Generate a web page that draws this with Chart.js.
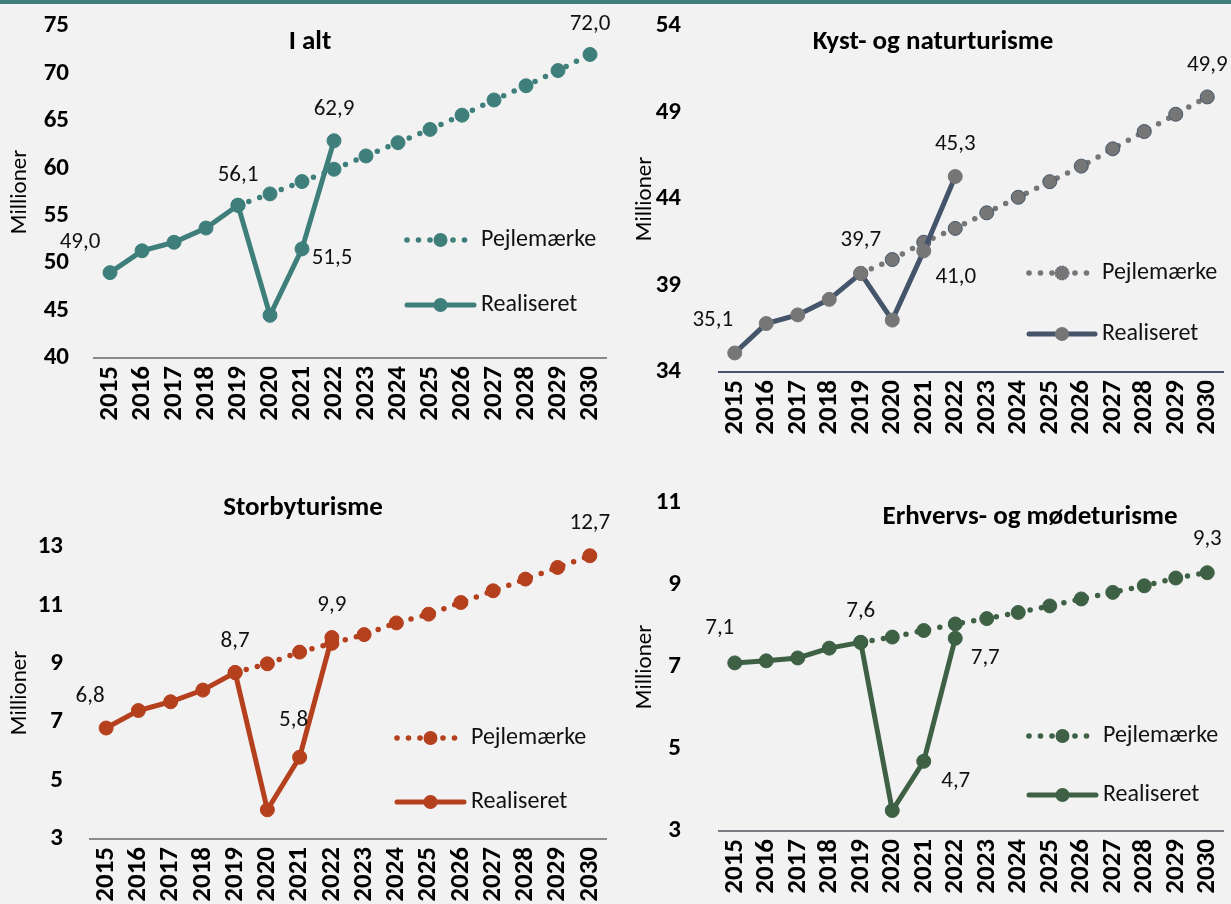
<!DOCTYPE html>
<html>
<head>
<meta charset="utf-8">
<script src="https://cdn.jsdelivr.net/npm/chart.js@4.4.1/dist/chart.umd.min.js"></script>
<style>
  body { margin: 0; background: #f2f2f2; width: 1231px; height: 904px; overflow: hidden; position: relative; }
  #topbar { position: absolute; left: 0; top: 0; width: 1231px; height: 4px; background: #3e7e7b; }
  .panel { position: absolute; }
</style>
</head>
<body>
<div id="topbar"></div>
<div class="panel" style="left:0;top:0;width:615px;height:465px"><canvas id="c1"></canvas></div>
<div class="panel" style="left:615px;top:0;width:616px;height:465px"><canvas id="c2"></canvas></div>
<div class="panel" style="left:0;top:465px;width:615px;height:439px"><canvas id="c3"></canvas></div>
<div class="panel" style="left:615px;top:465px;width:616px;height:439px"><canvas id="c4"></canvas></div>
<script>
// x categories
const years = ['2015','2016','2017','2018','2019','2020','2021','2022','2023','2024','2025','2026','2027','2028','2029','2030'];
const legendLabels = ['Pejlemærke', 'Realiseret'];

// I alt
const iAltRealiseret = [49.0, 51.3, 52.2, 53.7, 56.1, 44.5, 51.5, 62.9];
const iAltPejlemaerke = [null, null, null, null, 56.1, 57.3, 58.6, 59.9, 61.3, 62.7, 64.1, 65.6, 67.2, 68.7, 70.3, 72.0];
const iAltTicks = [40, 45, 50, 55, 60, 65, 70, 75];

// Kyst- og naturturisme
const kystRealiseret = [35.1, 36.8, 37.3, 38.2, 39.7, 37.0, 41.0, 45.3];
const kystPejlemaerke = [null, null, null, null, 39.7, 40.5, 41.5, 42.3, 43.2, 44.1, 45.0, 45.9, 46.9, 47.9, 48.9, 49.9];
const kystTicks = [34, 39, 44, 49, 54];

// Storbyturisme
const storbyRealiseret = [6.8, 7.4, 7.7, 8.1, 8.7, 4.0, 5.8, 9.9];
const storbyPejlemaerke = [null, null, null, null, 8.7, 9.0, 9.4, 9.7, 10.0, 10.4, 10.7, 11.1, 11.5, 11.9, 12.3, 12.7];
const storbyTicks = [3, 5, 7, 9, 11, 13];

// Erhvervs- og mødeturisme
const erhvervRealiseret = [7.1, 7.15, 7.22, 7.46, 7.6, 3.5, 4.7, 7.7];
const erhvervPejlemaerke = [null, null, null, null, 7.6, 7.73, 7.89, 8.05, 8.18, 8.33, 8.49, 8.66, 8.82, 8.98, 9.17, 9.3];
const erhvervTicks = [3, 5, 7, 9, 11];

const FONT = 'Carlito, Lato, sans-serif';

// draws panel title, the in-plot legend and the value labels
const decorPlugin = {
  id: 'decor',
  afterDatasetsDraw(chart, args, o) {
    const ctx = chart.ctx;
    ctx.save();
    // title
    ctx.fillStyle = '#000';
    ctx.font = 'bold 27px ' + FONT;
    ctx.textAlign = 'center';
    ctx.textBaseline = 'middle';
    ctx.fillText(o.title, o.titleX, o.titleY);

    // value labels
    ctx.font = '23px ' + FONT;
    ctx.fillStyle = '#111';
    o.labels.forEach(l => {
      const el = chart.getDatasetMeta(l.ds).data[l.i];
      const v = chart.data.datasets[l.ds].data[l.i];
      ctx.fillText(v.toFixed(1).replace('.', ','), el.x + l.dx, el.y + l.dy);
    });

    // legend
    const lg = o.legend;
    const mid = (lg.x0 + lg.x1) / 2;
    // dotted row
    ctx.fillStyle = o.lineColor2;
    for (let x = lg.x0; x <= lg.x1 + 0.5; x += 11.5) {
      ctx.beginPath(); ctx.arc(x, lg.y1, 2.8, 0, Math.PI * 2); ctx.fill();
    }
    ctx.beginPath(); ctx.arc(mid, lg.y1, 7, 0, Math.PI * 2);
    ctx.fillStyle = o.markerColor; ctx.fill();
    if (o.markerBorder) { ctx.lineWidth = 1; ctx.strokeStyle = o.markerBorder; ctx.setLineDash([1.5, 1.5]); ctx.stroke(); ctx.setLineDash([]); }
    // solid row
    ctx.strokeStyle = o.lineColor; ctx.lineWidth = 5; ctx.lineCap = 'round';
    ctx.beginPath(); ctx.moveTo(lg.x0, lg.y2); ctx.lineTo(lg.x1, lg.y2); ctx.stroke();
    ctx.beginPath(); ctx.arc(mid, lg.y2, 7, 0, Math.PI * 2);
    ctx.fillStyle = o.markerColor; ctx.fill();

    ctx.fillStyle = '#111';
    ctx.font = '24px ' + FONT;
    ctx.textAlign = 'left';
    ctx.fillText(legendLabels[0], lg.x1 + 7, lg.y1);
    ctx.fillText(legendLabels[1], lg.x1 + 7, lg.y2);
    ctx.restore();
  }
};

function makeChart(id, p) {
  const ticks = p.ticks;
  return new Chart(document.getElementById(id), {
    type: 'line',
    data: {
      labels: years,
      datasets: [{
        label: legendLabels[0],
        data: p.pejl,
        borderColor: p.lineColor2,
        borderWidth: 5.5,
        borderDash: [0, 11.5],
        borderCapStyle: 'round',
        pointRadius: 7,
        pointBackgroundColor: p.markerColor,
        pointBorderColor: p.markerBorder || p.markerColor,
        pointBorderWidth: 1,
        order: 2
      }, {
        label: legendLabels[1],
        data: p.real,
        borderColor: p.lineColor,
        borderWidth: 5,
        pointRadius: 7,
        pointBackgroundColor: p.markerColor,
        pointBorderColor: p.markerColor,
        pointBorderWidth: 1,
        order: 1
      }]
    },
    options: {
      responsive: true,
      maintainAspectRatio: false,
      animation: false,
      layout: { padding: { left: 0, right: p.padR, top: p.padT, bottom: p.padB } },
      plugins: {
        legend: { display: false },
        tooltip: { enabled: false },
        decor: {
          title: p.title, titleX: p.titleX, titleY: p.titleY,
          labels: p.labels, legend: p.legend,
          lineColor: p.lineColor, lineColor2: p.lineColor2,
          markerColor: p.markerColor, markerBorder: p.markerBorder
        }
      },
      scales: {
        x: {
          offset: true,
          grid: { display: false, drawTicks: false },
          border: { display: true, color: p.axisColor, width: 2 },
          ticks: {
            minRotation: 90, maxRotation: 90, padding: 8, autoSkip: false,
            color: '#000', font: { family: FONT, size: 27, weight: 'bold' }
          },
          afterFit(s) { s.height = p.xH; s.paddingLeft = 0; s.paddingRight = 0; }
        },
        y: {
          min: ticks[0], max: ticks[ticks.length - 1],
          grid: { display: false, drawTicks: false },
          border: { display: false },
          ticks: {
            stepSize: ticks[1] - ticks[0], padding: p.tickPad,
            color: '#000', font: { family: FONT, size: 25, weight: 'bold' }
          },
          title: {
            display: true, text: 'Millioner', color: '#000',
            padding: { top: p.titlePad, bottom: 0 },
            font: { family: FONT, size: 23 }
          },
          afterFit(s) { s.width = p.yW; s.paddingTop = 0; s.paddingBottom = 0; }
        }
      }
    },
    plugins: [decorPlugin]
  });
}

window.onload = function() {
  makeChart('c1', {
    real: iAltRealiseret, pejl: iAltPejlemaerke, ticks: iAltTicks,
    title: 'I alt', titleX: 310, titleY: 42,
    lineColor: '#3e7e7b', lineColor2: '#3e7e7b', markerColor: '#3e7e7b', axisColor: '#8a8a8a',
    yW: 94, padR: 9, padT: 26, padB: 27, xH: 80, tickPad: 25, titlePad: 6,
    legend: { x0: 407, x1: 474, y1: 240, y2: 305 },
    labels: [
      { ds: 1, i: 0, dx: -30, dy: -30 }, { ds: 1, i: 4, dx: 0, dy: -30 },
      { ds: 1, i: 7, dx: 0, dy: -32 }, { ds: 1, i: 6, dx: 30, dy: 9 },
      { ds: 0, i: 15, dx: 0, dy: -30 }
    ]
  });
  makeChart('c2', {
    real: kystRealiseret, pejl: kystPejlemaerke, ticks: kystTicks,
    title: 'Kyst- og naturturisme', titleX: 318, titleY: 42,
    lineColor: '#44546a', lineColor2: '#767676', markerColor: '#767676', markerBorder: '#44546a', axisColor: '#44546a',
    yW: 104, padR: 7, padT: 26, padB: 13, xH: 80, tickPad: 38, titlePad: 16,
    legend: { x0: 414, x1: 480, y1: 273, y2: 334 },
    labels: [
      { ds: 1, i: 0, dx: -22, dy: -33 }, { ds: 1, i: 4, dx: 0, dy: -33 },
      { ds: 1, i: 7, dx: 0, dy: -32 }, { ds: 1, i: 6, dx: 32, dy: 26 },
      { ds: 0, i: 15, dx: 0, dy: -32 }
    ]
  });
  makeChart('c3', {
    real: storbyRealiseret, pejl: storbyPejlemaerke, ticks: storbyTicks,
    title: 'Storbyturisme', titleX: 303, titleY: 43,
    lineColor: '#b5401e', lineColor2: '#b5401e', markerColor: '#b5401e', axisColor: '#8c8c8c',
    yW: 90, padR: 9, padT: 82, padB: 0, xH: 65, tickPad: 27, titlePad: 6,
    legend: { x0: 397, x1: 464, y1: 273, y2: 337 },
    labels: [
      { ds: 1, i: 0, dx: -16, dy: -32 }, { ds: 1, i: 4, dx: 0, dy: -31 },
      { ds: 1, i: 7, dx: 0, dy: -32 }, { ds: 1, i: 6, dx: -6, dy: -37 },
      { ds: 0, i: 15, dx: 0, dy: -33 }
    ]
  });
  makeChart('c4', {
    real: erhvervRealiseret, pejl: erhvervPejlemaerke, ticks: erhvervTicks,
    title: 'Erhvervs- og mødeturisme', titleX: 415, titleY: 52,
    lineColor: '#3e6045', lineColor2: '#3e6045', markerColor: '#3e6045', axisColor: '#7b7d82',
    yW: 104, padR: 7, padT: 38, padB: 0, xH: 73, tickPad: 38, titlePad: 16,
    legend: { x0: 414, x1: 481, y1: 271, y2: 330 },
    labels: [
      { ds: 1, i: 0, dx: -15, dy: -35 }, { ds: 1, i: 4, dx: 0, dy: -31 },
      { ds: 1, i: 7, dx: 30, dy: 20 }, { ds: 1, i: 6, dx: 32, dy: 20 },
      { ds: 0, i: 15, dx: 0, dy: -33 }
    ]
  });
};
</script>
</body>
</html>
